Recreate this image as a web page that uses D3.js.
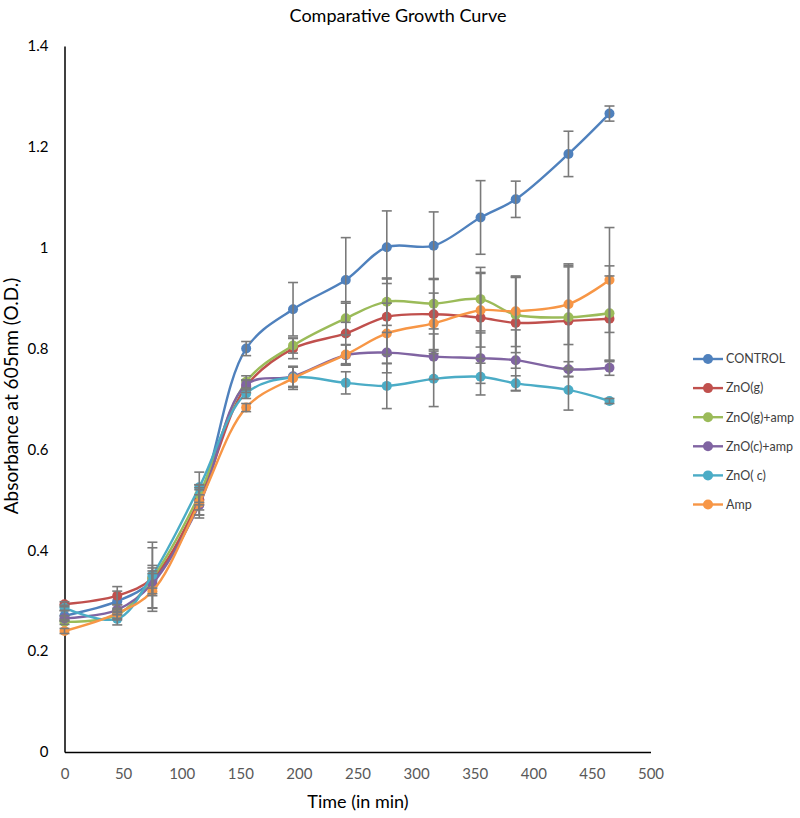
<!DOCTYPE html>
<html><head><meta charset="utf-8">
<script src="https://cdn.jsdelivr.net/npm/d3@7"></script>
<style>body{margin:0;background:#fff}svg{display:block}</style>
</head><body>
<svg id="chart" width="800" height="818"></svg>
<script>
const time = [0,45,75,115,155,195,240,275,315,355,385,430,465];
const seriesNames = ["CONTROL","ZnO(g)","ZnO(g)+amp","ZnO(c)+amp","ZnO( c)","Amp"];
const seriesColors = ["#4F81BD","#C0504D","#9BBB59","#8064A2","#4BACC6","#F79646"];
const control  = [0.270,0.299,0.340,0.500,0.800,0.878,0.936,1.001,1.004,1.060,1.096,1.186,1.266];
const znoG     = [0.293,0.310,0.345,0.500,0.725,0.800,0.830,0.863,0.868,0.861,0.851,0.855,0.859];
const znoGAmp  = [0.258,0.272,0.345,0.510,0.734,0.806,0.860,0.893,0.889,0.898,0.867,0.862,0.870];
const znoCAmp  = [0.265,0.282,0.334,0.490,0.728,0.745,0.787,0.792,0.784,0.781,0.777,0.759,0.762];
const znoC     = [0.286,0.264,0.351,0.525,0.711,0.743,0.732,0.726,0.740,0.744,0.731,0.718,0.696];
const amp      = [0.240,0.275,0.319,0.494,0.683,0.741,0.788,0.830,0.850,0.876,0.874,0.888,0.936];
const controlErr = [0.010,0.020,0.030,0.030,0.014,0.053,0.084,0.072,0.067,0.073,0.036,0.045,0.015];
const znoGErr    = [0.005,0.018,0.060,0.020,0.012,0.020,0.060,0.075,0.070,0.090,0.090,0.110,0.085];
const znoGAmpErr = [0.005,0.010,0.020,0.020,0.012,0.015,0.033,0.047,0.050,0.063,0.075,0.100,0.094];
const znoCAmpErr = [0.005,0.010,0.020,0.020,0.010,0.020,0.020,0.040,0.045,0.050,0.060,0.015,0.015];
const znoCErr    = [0.005,0.012,0.065,0.030,0.010,0.020,0.022,0.045,0.055,0.036,0.015,0.040,0.005];
const ampErr     = [0.005,0.010,0.040,0.030,0.008,0.022,0.020,0.060,0.060,0.073,0.070,0.080,0.104];
const xTicks = [0,50,100,150,200,250,300,350,400,450,500];
const yTicks = [0,0.2,0.4,0.6,0.8,1,1.2,1.4];

const values = [control,znoG,znoGAmp,znoCAmp,znoC,amp];
const errs = [controlErr,znoGErr,znoGAmpErr,znoCAmpErr,znoCErr,ampErr];
const series = seriesNames.map((n,i)=>({name:n,color:seriesColors[i],
  pts: time.map((t,j)=>({t, v:values[i][j], e:errs[i][j]}))}));

const font = "Lato, 'Open Sans', sans-serif";
const svg = d3.select("#chart");
const x = d3.scaleLinear().domain([0,500]).range([64.5,650.5]);
const y = d3.scaleLinear().domain([0,1.4]).range([752,46]);

svg.append("text").attr("x",398).attr("y",22).attr("text-anchor","middle")
  .attr("font-family",font).attr("font-size",18).attr("fill","#000").text("Comparative Growth Curve");

// axes
const xa = svg.append("g").attr("transform","translate(0,752)")
  .call(d3.axisBottom(x).tickValues(xTicks).tickSize(0).tickPadding(16).tickFormat(d3.format("d")));
xa.select(".domain").attr("stroke","#000").attr("stroke-width",1.5);
xa.selectAll("text").attr("font-family",font).attr("font-size",15).attr("fill","#595959");
const ya = svg.append("g").attr("transform","translate(64.5,0)")
  .call(d3.axisLeft(y).tickValues(yTicks).tickSize(0).tickPadding(16).tickFormat(d=>String(d)));
ya.select(".domain").attr("stroke","#000").attr("stroke-width",1.5);
ya.selectAll("text").attr("font-family",font).attr("font-size",15).attr("fill","#000");

svg.append("text").attr("x",358).attr("y",808).attr("text-anchor","middle")
  .attr("font-family",font).attr("font-size",18).attr("fill","#000").text("Time (in min)");
svg.append("text").attr("transform","translate(18,396) rotate(-90)").attr("text-anchor","middle")
  .attr("font-family",font).attr("font-size",19).attr("fill","#000").text("Absorbance at 605nm (O.D.)");

const line = d3.line().x(d=>x(d.t)).y(d=>y(d.v)).curve(d3.curveCatmullRom.alpha(0.5));
const g = svg.append("g");
series.forEach(s=>{
  g.append("path").datum(s.pts).attr("d",line).attr("fill","none")
    .attr("stroke",s.color).attr("stroke-width",2.4);
  g.selectAll(null).data(s.pts).enter().append("circle")
    .attr("cx",d=>x(d.t)).attr("cy",d=>y(d.v)).attr("r",5).attr("fill",s.color);
});
// error bars
const eb = svg.append("g").attr("stroke","#7a7a7a").attr("stroke-width",1.6);
series.forEach(s=>{
  s.pts.forEach(d=>{
    const cx=x(d.t), y1=y(d.v+d.e), y2=y(d.v-d.e);
    eb.append("line").attr("x1",cx).attr("x2",cx).attr("y1",y1).attr("y2",y2);
    eb.append("line").attr("x1",cx-5).attr("x2",cx+5).attr("y1",y1).attr("y2",y1);
    eb.append("line").attr("x1",cx-5).attr("x2",cx+5).attr("y1",y2).attr("y2",y2);
  });
});

// legend
const lg = svg.append("g");
series.forEach((s,i)=>{
  const ly = 359 + i*29.1;
  lg.append("line").attr("x1",693).attr("x2",723).attr("y1",ly).attr("y2",ly)
    .attr("stroke",s.color).attr("stroke-width",2.4);
  lg.append("circle").attr("cx",708).attr("cy",ly).attr("r",5).attr("fill",s.color);
  lg.append("text").attr("x",726).attr("y",ly).attr("dy","0.35em")
    .attr("font-family",font).attr("font-size",12.5).attr("fill","#404040").text(s.name);
});
</script>
</body></html>
